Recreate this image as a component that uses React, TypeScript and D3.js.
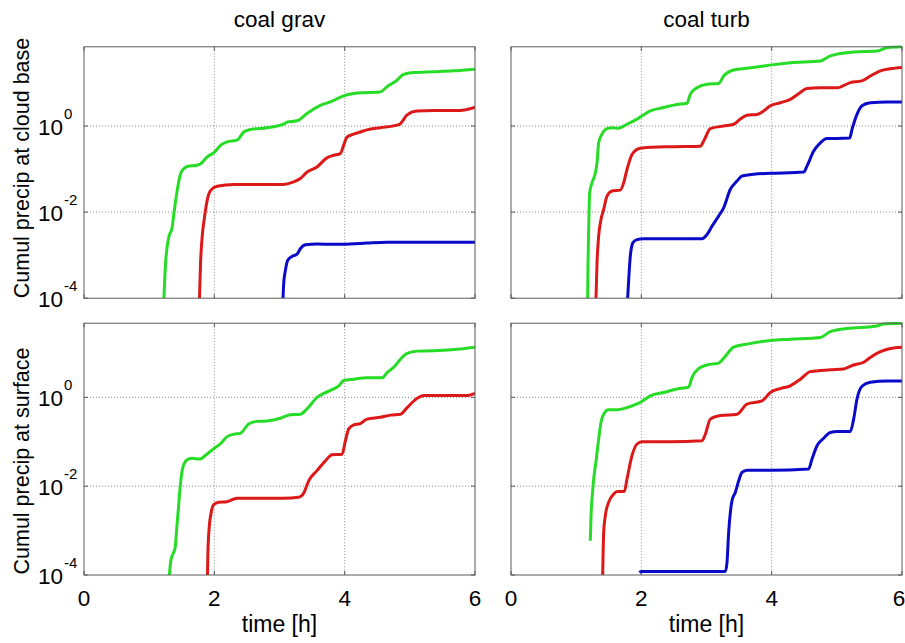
import React from 'react';
import * as d3 from 'd3';

type Pt = [number, number]; // [time in h, cumulative precipitation]

const timeTicks = [0, 2, 4, 6];
const precipTicks = [1e-4, 1e-2, 1e0];
const precipTickExps = ['-4', '-2', '0'];
const precipMin = 1e-4;
const columnTitles = ['coal grav', 'coal turb'];
const rowLabels = ['Cumul precip at cloud base', 'Cumul precip at surface'];
const timeLabel = 'time [h]';

// ---- coal grav, cloud base ----
const gravBaseGreen: Pt[] = [
  [1.226, 1e-4], [1.251, 6.3e-4], [1.302, 2.63e-3], [1.353, 4.47e-3], [1.379, 9.1e-3],
  [1.43, 3.16e-2], [1.481, 7.8e-2], [1.532, 0.102], [1.583, 0.115], [1.736, 0.123],
  [1.788, 0.132], [1.89, 0.191], [2.007, 0.251], [2.094, 0.355], [2.196, 0.427],
  [2.349, 0.468], [2.451, 0.724], [2.554, 0.832], [2.809, 0.912], [3.064, 1.1],
  [3.115, 1.23], [3.269, 1.32], [3.422, 1.95], [3.626, 3.02], [3.779, 3.63],
  [3.984, 5.01], [4.239, 5.89], [4.545, 6.17], [4.648, 8.13], [4.801, 11.5],
  [4.903, 15.8], [5.056, 17.4], [5.363, 18.2], [5.669, 19.1], [6.0, 20.9],
];
const gravBaseRed: Pt[] = [
  [1.772, 1e-4], [1.788, 6.3e-4], [1.813, 2.63e-3], [1.849, 7.59e-3], [1.89, 1.86e-2],
  [1.941, 3.16e-2], [2.043, 3.98e-2], [2.298, 4.37e-2], [2.809, 4.37e-2], [3.064, 4.4e-2],
  [3.218, 5.01e-2], [3.32, 6.03e-2], [3.422, 8.51e-2], [3.575, 0.112], [3.728, 0.182],
  [3.83, 0.209], [3.933, 0.229], [3.984, 0.355], [4.035, 0.55], [4.137, 0.646],
  [4.239, 0.724], [4.341, 0.813], [4.545, 0.912], [4.801, 1.05], [4.852, 1.12],
  [4.954, 1.78], [5.107, 2.24], [5.363, 2.29], [5.771, 2.29], [5.924, 2.51], [6.0, 2.75],
];
const gravBaseBlue: Pt[] = [
  [3.054, 1e-4], [3.064, 2.14e-4], [3.09, 4.37e-4], [3.126, 7.59e-4], [3.192, 9.33e-4],
  [3.269, 1.05e-3], [3.32, 1.41e-3], [3.396, 1.74e-3], [3.575, 1.82e-3], [3.83, 1.78e-3],
  [4.086, 1.82e-3], [4.341, 1.91e-3], [4.648, 2.0e-3], [5.363, 2.0e-3], [6.0, 2.0e-3],
];

// ---- coal turb, cloud base ----
const turbBaseGreen: Pt[] = [
  [1.176, 1e-4], [1.182, 6.6e-4], [1.192, 3.98e-3], [1.207, 2.82e-2], [1.243, 4.79e-2],
  [1.294, 8.13e-2], [1.32, 0.141], [1.345, 0.407], [1.396, 0.646], [1.473, 0.871],
  [1.55, 0.912], [1.652, 0.891], [1.78, 1.1], [1.934, 1.45], [2.138, 2.24],
  [2.343, 2.69], [2.547, 3.16], [2.701, 3.39], [2.752, 5.5], [2.854, 7.76],
  [3.008, 9.33], [3.187, 9.77], [3.263, 14.5], [3.417, 20.0], [3.621, 21.9],
  [3.826, 24.0], [4.005, 26.3], [4.286, 29.5], [4.747, 32.4], [4.9, 42.7],
  [5.258, 52.5], [5.616, 55.0], [5.77, 66.1], [6.0, 69.2],
];
const turbBaseRed: Pt[] = [
  [1.304, 1e-4], [1.32, 6.6e-4], [1.345, 2.75e-3], [1.381, 6.76e-3], [1.422, 1.15e-2],
  [1.473, 2.34e-2], [1.55, 3.09e-2], [1.678, 3.24e-2], [1.729, 4.79e-2], [1.78, 9.77e-2],
  [1.857, 0.219], [1.934, 0.288], [2.01, 0.309], [2.445, 0.331], [2.905, 0.339],
  [2.957, 0.447], [3.059, 0.871], [3.263, 1.0], [3.417, 1.1], [3.519, 1.45],
  [3.621, 1.78], [3.775, 1.86], [3.877, 2.24], [3.98, 2.95], [4.133, 3.47],
  [4.286, 4.17], [4.44, 6.03], [4.542, 7.41], [4.747, 7.76], [5.003, 7.76],
  [5.207, 10.2], [5.386, 11.2], [5.514, 14.5], [5.668, 19.1], [5.821, 21.4], [6.0, 22.9],
];
const turbBaseBlue: Pt[] = [
  [1.79, 1e-4], [1.806, 2.69e-4], [1.831, 9.55e-4], [1.872, 1.95e-3], [1.934, 2.29e-3],
  [2.036, 2.4e-3], [2.445, 2.4e-3], [2.931, 2.4e-3], [3.008, 3.02e-3], [3.084, 4.68e-3],
  [3.187, 8.13e-3], [3.263, 1.26e-2], [3.366, 3.39e-2], [3.468, 5.25e-2], [3.545, 6.92e-2],
  [3.724, 7.59e-2], [3.98, 7.94e-2], [4.491, 8.51e-2], [4.542, 0.117], [4.645, 0.263],
  [4.747, 0.407], [4.849, 0.513], [5.003, 0.513], [5.197, 0.525], [5.233, 0.832],
  [5.309, 1.86], [5.386, 2.95], [5.514, 3.47], [5.77, 3.63], [6.0, 3.63],
];

// ---- coal grav, surface ----
const gravSurfGreen: Pt[] = [
  [1.311, 1e-4], [1.332, 2.09e-4], [1.363, 2.95e-4], [1.399, 4.17e-4], [1.424, 1.17e-3],
  [1.45, 3.31e-3], [1.475, 9.33e-3], [1.516, 2.63e-2], [1.578, 3.89e-2], [1.655, 4.27e-2],
  [1.783, 4.07e-2], [1.86, 4.9e-2], [1.988, 6.92e-2], [2.09, 8.91e-2], [2.193, 0.129],
  [2.295, 0.148], [2.398, 0.155], [2.526, 0.251], [2.654, 0.288], [2.807, 0.295],
  [3.012, 0.339], [3.166, 0.407], [3.32, 0.417], [3.422, 0.55], [3.576, 1.0],
  [3.678, 1.23], [3.832, 1.55], [3.909, 1.82], [3.986, 2.4], [4.139, 2.57],
  [4.344, 2.75], [4.575, 2.75], [4.652, 3.63], [4.754, 4.79], [4.857, 7.24],
  [4.959, 9.77], [5.113, 11.0], [5.369, 11.2], [5.779, 12.3], [6.0, 13.5],
];
const gravSurfRed: Pt[] = [
  [1.895, 1e-4], [1.901, 2.95e-4], [1.921, 1.17e-3], [1.947, 2.34e-3], [1.988, 3.8e-3],
  [2.065, 4.37e-3], [2.193, 4.47e-3], [2.346, 5.37e-3], [2.551, 5.37e-3], [3.064, 5.37e-3],
  [3.294, 5.62e-3], [3.371, 6.92e-3], [3.448, 1.32e-2], [3.576, 2.24e-2], [3.704, 3.72e-2],
  [3.806, 5.13e-2], [3.96, 5.25e-2], [4.011, 0.105], [4.062, 0.195], [4.139, 0.24],
  [4.242, 0.257], [4.344, 0.324], [4.549, 0.355], [4.703, 0.398], [4.857, 0.417],
  [4.959, 0.589], [5.113, 0.955], [5.215, 1.1], [5.625, 1.1], [5.881, 1.1], [6.0, 1.23],
];

// ---- coal turb, surface ----
const turbSurfGreen: Pt[] = [
  [1.217, 5.89e-4], [1.228, 2.19e-3], [1.243, 5.13e-3], [1.269, 1.45e-2], [1.309, 4.07e-2],
  [1.345, 0.115], [1.381, 0.275], [1.422, 0.417], [1.499, 0.525], [1.627, 0.525],
  [1.78, 0.589], [1.959, 0.741], [2.164, 1.12], [2.343, 1.29], [2.547, 1.55],
  [2.726, 1.7], [2.778, 2.82], [2.88, 4.47], [3.008, 5.37], [3.187, 5.89],
  [3.263, 7.59], [3.417, 13.5], [3.621, 15.8], [3.98, 19.1], [4.286, 20.4],
  [4.747, 22.4], [4.9, 30.2], [5.156, 35.5], [5.591, 39.8], [5.719, 44.7], [6.0, 46.8],
];
const turbSurfRed: Pt[] = [
  [1.407, 1e-4], [1.422, 9.12e-4], [1.448, 2.19e-3], [1.499, 4.37e-3], [1.575, 6.61e-3],
  [1.627, 7.59e-3], [1.739, 7.59e-3], [1.78, 1.45e-2], [1.857, 4.9e-2], [1.934, 8.91e-2],
  [2.01, 0.1], [2.445, 0.1], [2.931, 0.105], [2.982, 0.148], [3.059, 0.324],
  [3.212, 0.389], [3.468, 0.417], [3.621, 0.708], [3.852, 0.832], [3.98, 1.29],
  [4.133, 1.58], [4.286, 1.82], [4.44, 2.57], [4.593, 3.8], [4.9, 4.17],
  [5.105, 4.37], [5.258, 5.37], [5.412, 6.17], [5.514, 7.94], [5.668, 10.7],
  [5.821, 12.6], [6.0, 13.5],
];
const turbSurfBlue: Pt[] = [
  [1.97, 1.14e-4], [2.0, 1.2e-4], [2.445, 1.2e-4], [3.289, 1.2e-4], [3.315, 1.95e-4],
  [3.34, 9.12e-4], [3.366, 2.57e-3], [3.391, 4.68e-3], [3.442, 7.24e-3], [3.494, 1.32e-2],
  [3.545, 2.04e-2], [3.621, 2.29e-2], [3.98, 2.29e-2], [4.568, 2.45e-2], [4.619, 4.07e-2],
  [4.696, 8.13e-2], [4.798, 0.12], [4.9, 0.162], [5.003, 0.17], [5.207, 0.17],
  [5.258, 0.324], [5.309, 0.912], [5.386, 1.78], [5.514, 2.19], [5.77, 2.34], [6.0, 2.34],
];

const GREEN = '#27dc27';
const RED = '#dc1818';
const BLUE = '#0a0ac8';

const rows = [
  [
    [{ c: GREEN, d: gravBaseGreen }, { c: RED, d: gravBaseRed }, { c: BLUE, d: gravBaseBlue }],
    [{ c: GREEN, d: turbBaseGreen }, { c: RED, d: turbBaseRed }, { c: BLUE, d: turbBaseBlue }],
  ],
  [
    [{ c: GREEN, d: gravSurfGreen }, { c: RED, d: gravSurfRed }],
    [{ c: GREEN, d: turbSurfGreen }, { c: RED, d: turbSurfRed }, { c: BLUE, d: turbSurfBlue }],
  ],
];

const W = 905;
const H = 643;
const colX = [[84, 475], [511, 902]];
const rowY = [[46.8, 298.2], [323.2, 575]];
const rowLabelY = [168, 461];
const FONT = '"Liberation Sans", Arial, Helvetica, sans-serif';

export default function App() {
  const x = colX.map(([a, b]) => d3.scaleLinear().domain([0, 6]).range([a, b]));
  const y = rows.map((row, ri) => {
    const top = d3.max(row.flat().flatMap((s) => s.d.map((p) => p[1]))) as number;
    return d3.scaleLog().domain([precipMin, top]).range([rowY[ri][1], rowY[ri][0]]);
  });

  return (
    <svg width={W} height={H} style={{ position: 'absolute', left: 0, top: 0, background: '#fff' }}
      fontFamily={FONT}>
      <rect x={0} y={0} width={W} height={H} fill="#fff" />
      <defs>
        {rows.map((row, ri) => row.map((_, ci) => (
          <clipPath id={`clip-${ri}-${ci}`} key={`${ri}-${ci}`}>
            <rect x={colX[ci][0]} y={rowY[ri][0] - 1.5} width={colX[ci][1] - colX[ci][0]}
              height={rowY[ri][1] - rowY[ri][0] + 1.5} />
          </clipPath>
        )))}
      </defs>

      {columnTitles.map((t, ci) => (
        <text key={t} x={(colX[ci][0] + colX[ci][1]) / 2} y={27} fontSize={22.5} textAnchor="middle">{t}</text>
      ))}

      {rowLabels.map((t, ri) => (
        <text key={t} transform={`translate(29,${rowLabelY[ri]}) rotate(-90)`} fontSize={21.5}
          textAnchor="middle">{t}</text>
      ))}

      {rows.map((row, ri) => row.map((series, ci) => {
        const xs = x[ci];
        const ys = y[ri];
        const [x0, x1] = colX[ci];
        const [y0, y1] = rowY[ri];
        const line = d3.line<Pt>().x((p) => xs(p[0])).y((p) => ys(p[1])).curve(d3.curveMonotoneX);
        return (
          <g key={`${ri}-${ci}`}>
            {timeTicks.slice(1, -1).map((t) => (
              <line key={`gx${t}`} x1={xs(t)} x2={xs(t)} y1={y0} y2={y1} stroke="#8a8a8a"
                strokeWidth={1} strokeDasharray="1,2" />
            ))}
            {precipTicks.slice(1).map((v) => (
              <line key={`gy${v}`} x1={x0} x2={x1} y1={ys(v)} y2={ys(v)} stroke="#8a8a8a"
                strokeWidth={1} strokeDasharray="1,2" />
            ))}
            {timeTicks.map((t) => (
              <g key={`tx${t}`}>
                <line x1={xs(t)} x2={xs(t)} y1={y1} y2={y1 - 4} stroke="#555" />
                <line x1={xs(t)} x2={xs(t)} y1={y0} y2={y0 + 4} stroke="#555" />
              </g>
            ))}
            {precipTicks.map((v) => (
              <g key={`ty${v}`}>
                <line x1={x0} x2={x0 + 4} y1={ys(v)} y2={ys(v)} stroke="#555" />
                <line x1={x1} x2={x1 - 4} y1={ys(v)} y2={ys(v)} stroke="#555" />
              </g>
            ))}
            <g clipPath={`url(#clip-${ri}-${ci})`}>
              {series.map((s, si) => (
                <path key={si} d={line(s.d) ?? ''} fill="none" stroke={s.c} strokeWidth={3}
                  strokeLinejoin="round" strokeLinecap="butt" />
              ))}
            </g>
            <rect x={x0} y={y0} width={x1 - x0} height={y1 - y0} fill="none" stroke="#5a5a5a" strokeWidth={1} />

            {ci === 0 && precipTicks.map((v, i) => (
              <g key={`ly${v}`} fontSize={22.5}>
                <text x={63} y={ys(v) + 8.5} textAnchor="end">10</text>
                <text x={64} y={ys(v) - 7.5} fontSize={15}>{precipTickExps[i]}</text>
              </g>
            ))}
            {ri === 1 && timeTicks.map((t) => (
              <text key={`lx${t}`} x={t === 6 && ci === 1 ? xs(t) - 3 : xs(t)} y={606} fontSize={22.5}
                textAnchor="middle">{t}</text>
            ))}
            {ri === 1 && (
              <text x={(x0 + x1) / 2} y={632} fontSize={23} textAnchor="middle">{timeLabel}</text>
            )}
          </g>
        );
      }))}
    </svg>
  );
}
